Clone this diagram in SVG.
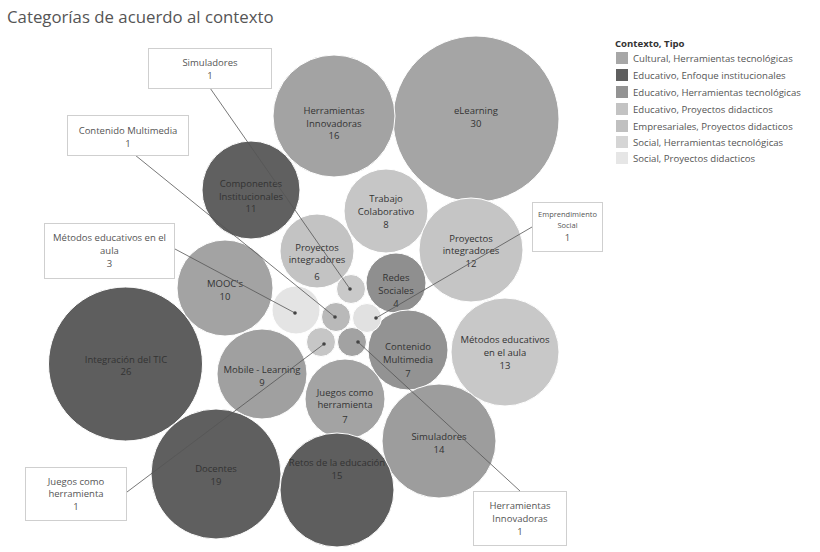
<svg xmlns="http://www.w3.org/2000/svg" width="820" height="552" viewBox="0 0 820 552">
<style>
  text { font-family: "Open Sans", "Noto Sans", "DejaVu Sans", sans-serif; }
  .title { font-size: 16.8px; fill: #555; }
  .lbl { font-size: 9.5px; fill: #333; text-anchor: middle; }
  .cl { font-size: 9.5px; fill: #555; text-anchor: middle; }
  .cls { font-size: 7.5px; fill: #555; text-anchor: middle; }
  .box { fill: #fff; stroke: #cfcfcf; stroke-width: 1; }
  .lnk { stroke: #555; stroke-width: 0.8; fill: none; }
  .dot { fill: #444; }
  .lg { font-size: 9.6px; fill: #555; }
  .lgh { font-size: 9.6px; fill: #333; font-weight: bold; }
  .b { stroke: #fff; stroke-width: 1; }
</style>
<rect width="820" height="552" fill="#fff"/>
<text class="title" x="7" y="23">Categorías de acuerdo al contexto</text>

<g id="legend">
  <text class="lgh" x="615" y="47">Contexto, Tipo</text>
  <rect x="616" y="52" width="12" height="12" fill="#a7a7a7"/><text class="lg" x="633" y="61.5">Cultural, Herramientas tecnológicas</text>
  <rect x="616" y="69" width="12" height="12" fill="#5f5f5f"/><text class="lg" x="633" y="78.5">Educativo, Enfoque institucionales</text>
  <rect x="616" y="86" width="12" height="12" fill="#939393"/><text class="lg" x="633" y="95.5">Educativo, Herramientas tecnológicas</text>
  <rect x="616" y="103" width="12" height="12" fill="#c3c3c3"/><text class="lg" x="633" y="112.5">Educativo, Proyectos didacticos</text>
  <rect x="616" y="120" width="12" height="12" fill="#c0c0c0"/><text class="lg" x="633" y="129.5">Empresariales, Proyectos didacticos</text>
  <rect x="616" y="136" width="12" height="12" fill="#d5d5d5"/><text class="lg" x="633" y="145.5">Social, Herramientas tecnológicas</text>
  <rect x="616" y="152" width="12" height="12" fill="#e6e6e6"/><text class="lg" x="633" y="161.5">Social, Proyectos didacticos</text>
</g>

<g id="bubbles">
  <g id="n-elearning"><circle class="b" cx="476" cy="119" r="83" fill="#a5a5a5"/><text class="lbl" x="476" y="113.5">eLearning</text><text class="lbl" x="476" y="126.5">30</text></g>
  <g id="n-herr-innov"><circle class="b" cx="334" cy="116" r="61" fill="#a3a3a3"/><text class="lbl" x="334" y="113.5">Herramientas</text><text class="lbl" x="334" y="126.5">Innovadoras</text><text class="lbl" x="334" y="138.5">16</text></g>
  <g id="n-componentes"><circle class="b" cx="251" cy="190" r="49" fill="#606060"/><text class="lbl" x="251" y="186.5">Componentes</text><text class="lbl" x="251" y="199.5">Institucionales</text><text class="lbl" x="251" y="211.5">11</text></g>
  <g id="n-trabajo"><circle class="b" cx="386" cy="211" r="42" fill="#c6c6c6"/><text class="lbl" x="386" y="201.5">Trabajo</text><text class="lbl" x="386" y="214.5">Colaborativo</text><text class="lbl" x="386" y="227.5">8</text></g>
  <g id="n-proy6"><circle class="b" cx="317" cy="251" r="37" fill="#c3c3c3"/><text class="lbl" x="317" y="250.5">Proyectos</text><text class="lbl" x="317" y="262.5">integradores</text><text class="lbl" x="317" y="279.5">6</text></g>
  <g id="n-proy12"><circle class="b" cx="471" cy="250" r="52" fill="#c5c5c5"/><text class="lbl" x="471" y="241.5">Proyectos</text><text class="lbl" x="471" y="253.5">integradores</text><text class="lbl" x="471" y="266.5">12</text></g>
  <g id="n-redes"><circle class="b" cx="396" cy="283" r="30" fill="#8f8f8f"/><text class="lbl" x="396" y="280.5">Redes</text><text class="lbl" x="396" y="293.5">Sociales</text><text class="lbl" x="396" y="306.5">4</text></g>
  <g id="n-moocs"><circle class="b" cx="225" cy="288" r="48" fill="#a3a3a3"/><text class="lbl" x="225" y="286.5">MOOC's</text><text class="lbl" x="225" y="299.5">10</text></g>
  <g id="n-integracion"><circle class="b" cx="125.5" cy="364" r="77" fill="#5e5e5e"/><text class="lbl" x="126" y="362.5">Integración del TIC</text><text class="lbl" x="126" y="374.5">26</text></g>
  <g id="n-metodos13"><circle class="b" cx="505" cy="352" r="54" fill="#c8c8c8"/><text class="lbl" x="505" y="342.5">Métodos educativos</text><text class="lbl" x="505" y="355.5">en el aula</text><text class="lbl" x="505" y="368.5">13</text></g>
  <g id="n-contenido7"><circle class="b" cx="408" cy="350" r="40" fill="#939393"/><text class="lbl" x="408" y="349.5">Contenido</text><text class="lbl" x="408" y="362.5">Multimedia</text><text class="lbl" x="408" y="376.5">7</text></g>
  <g id="n-mobile"><circle class="b" cx="262" cy="374" r="45" fill="#a0a0a0"/><text class="lbl" x="262" y="372.5">Mobile - Learning</text><text class="lbl" x="262" y="385.5">9</text></g>
  <g id="n-juegos7"><circle class="b" cx="345" cy="399" r="40" fill="#a3a3a3"/><text class="lbl" x="345" y="395.5">Juegos como</text><text class="lbl" x="345" y="407.5">herramienta</text><text class="lbl" x="345" y="422.5">7</text></g>
  <g id="n-simuladores14"><circle class="b" cx="439" cy="441" r="57" fill="#9d9d9d"/><text class="lbl" x="439" y="439.5">Simuladores</text><text class="lbl" x="439" y="452.5">14</text></g>
  <g id="n-docentes"><circle class="b" cx="216" cy="474" r="65" fill="#5f5f5f"/><text class="lbl" x="216" y="471.5">Docentes</text><text class="lbl" x="216" y="484.5">19</text></g>
  <g id="n-retos"><circle class="b" cx="337" cy="490" r="57" fill="#5e5e5e"/><text class="lbl" x="337" y="465.5">Retos de la educación</text><text class="lbl" x="337" y="478.5">15</text></g>
  <g id="n-metodos3"><circle class="b" cx="296" cy="310" r="24" fill="#e4e4e4"/></g>
  <g id="n-simuladores1"><circle class="b" cx="351" cy="289" r="14.5" fill="#c9c9c9"/></g>
  <g id="n-contenido1"><circle class="b" cx="336" cy="317" r="14.5" fill="#b9b9b9"/></g>
  <g id="n-emprendimiento"><circle class="b" cx="367" cy="318" r="14.5" fill="#e1e1e1"/></g>
  <g id="n-juegos1"><circle class="b" cx="321" cy="342" r="14.5" fill="#c6c6c6"/></g>
  <g id="n-herr1"><circle class="b" cx="352" cy="342" r="14.5" fill="#a2a2a2"/></g>
</g>

<g id="connectors">
  <line class="lnk" x1="210" y1="88" x2="350" y2="289"/>
  <line class="lnk" x1="135" y1="155" x2="335" y2="317"/>
  <line class="lnk" x1="175" y1="249" x2="295" y2="313"/>
  <line class="lnk" x1="532" y1="227" x2="376" y2="318"/>
  <line class="lnk" x1="127" y1="492" x2="324" y2="344"/>
  <line class="lnk" x1="520" y1="491" x2="358" y2="342"/>
  <circle class="dot" cx="350" cy="289" r="1.8"/>
  <circle class="dot" cx="335" cy="317" r="1.8"/>
  <circle class="dot" cx="295" cy="313" r="1.8"/>
  <circle class="dot" cx="376" cy="318" r="1.8"/>
  <circle class="dot" cx="324" cy="344" r="1.8"/>
  <circle class="dot" cx="358" cy="342" r="1.8"/>
</g>

<g id="callouts">
  <g id="c-simuladores"><rect class="box" x="148.5" y="48.5" width="123" height="40"/><text class="cl" x="210" y="65.5">Simuladores</text><text class="cl" x="210" y="78.5">1</text></g>
  <g id="c-contenido"><rect class="box" x="67.5" y="115.5" width="121" height="40"/><text class="cl" x="128" y="133.5">Contenido Multimedia</text><text class="cl" x="128" y="146.5">1</text></g>
  <g id="c-metodos"><rect class="box" x="44.5" y="223.5" width="130" height="55"/><text class="cl" x="109.5" y="240.5">Métodos educativos en el</text><text class="cl" x="109.5" y="253.5">aula</text><text class="cl" x="109.5" y="266.5">3</text></g>
  <g id="c-emprendimiento"><rect class="box" x="532.5" y="202.5" width="70" height="49"/><text class="cls" x="567.5" y="217">Emprendimiento</text><text class="cls" x="567.5" y="227.5">Social</text><text class="cl" x="567.5" y="240.5">1</text></g>
  <g id="c-juegos"><rect class="box" x="25.5" y="467.5" width="101" height="53"/><text class="cl" x="76" y="484.5">Juegos como</text><text class="cl" x="76" y="496.5">herramienta</text><text class="cl" x="76" y="509.5">1</text></g>
  <g id="c-herr"><rect class="box" x="473.5" y="491.5" width="93" height="54"/><text class="cl" x="520" y="508.5">Herramientas</text><text class="cl" x="520" y="521.5">Innovadoras</text><text class="cl" x="520" y="534.5">1</text></g>
</g>
</svg>
